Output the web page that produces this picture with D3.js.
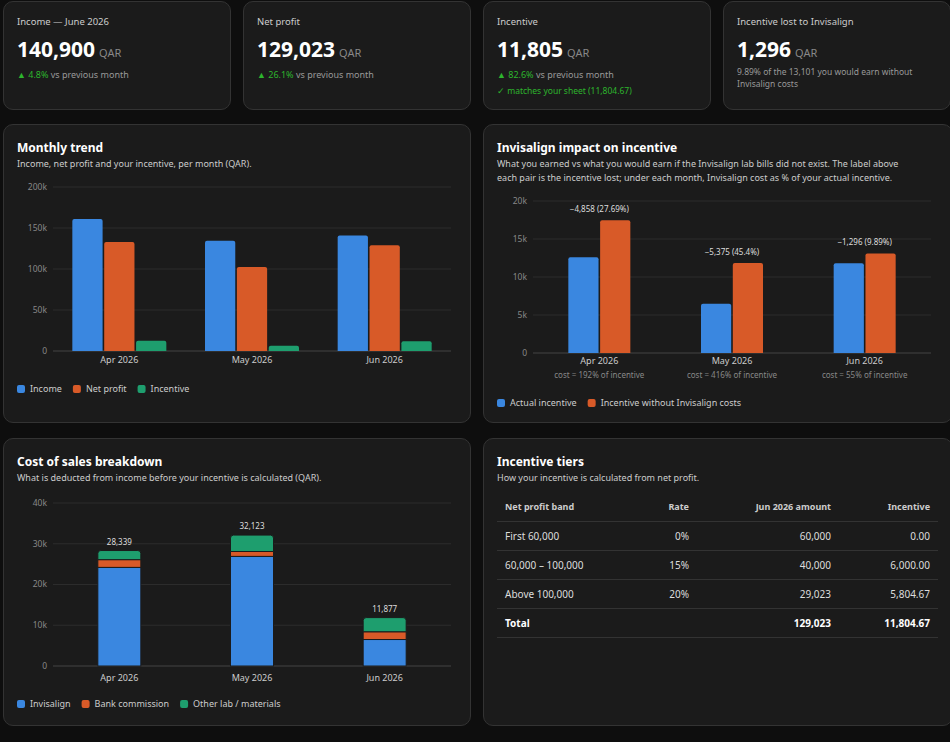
<!DOCTYPE html>
<html><head><meta charset="utf-8">
<script src="https://cdn.jsdelivr.net/npm/d3@7"></script>
<style>
body{margin:0;background:#0e0e0e;font-family:"Noto Sans",sans-serif;color:#ddd;width:950px;height:742px;overflow:hidden;position:relative}
.card{position:absolute;background:#1b1b1b;border:1px solid #333;border-radius:10px;box-sizing:border-box;overflow:hidden}
.kl{position:absolute;left:13px;top:13px;font-size:9.5px;color:#ccc}
.kv{position:absolute;left:13px;top:33px;font-size:21px;font-weight:700;color:#fff}
.kv span{font-size:11px;font-weight:400;color:#888;margin-left:4px}
.kd{position:absolute;left:13px;top:66px;font-size:9px;color:#999}
.kd b{color:#2db52d;font-weight:400}
.ks{position:absolute;left:13px;top:83px;font-size:8.5px;color:#2db52d}
.kn{position:absolute;left:13px;top:64px;font-size:8.5px;color:#999;width:200px;line-height:12px}
.t{position:absolute;left:13px;top:14px;font-size:12px;font-weight:700;color:#fff}
.s{position:absolute;left:13px;top:32px;font-size:9px;color:#ccc;line-height:14px;width:418px}
svg{position:absolute;left:0;top:0}
svg text{font-family:"Noto Sans",sans-serif}
table{position:absolute;left:13px;top:53px;width:441px;border-collapse:collapse;font-size:10px;table-layout:fixed}
td,th{height:29px;border-bottom:1px solid #333;padding:0 8px;text-align:right;box-sizing:border-box}
th{font-weight:700;color:#ccc;font-size:9px}
td{color:#ddd}
td:first-child,th:first-child{text-align:left}
tr.tot td{font-weight:700;color:#fff}
</style></head><body>
<script>
const months = ["Apr 2026", "May 2026", "Jun 2026"];
const income = [161000, 134447, 140900];
const netProfit = [133000, 102317, 129023];
const incentive = [12600, 6465, 11805];
const incentiveNoInv = [17458, 11840, 13101];
const lostLabels = ["\u22124,858 (27.69%)", "\u22125,375 (45.4%)", "\u22121,296 (9.89%)"];
const costPct = ["cost = 192% of incentive", "cost = 416% of incentive", "cost = 55% of incentive"];
const invisalign = [24200, 26900, 6500];
const bankCommission = [1900, 1200, 1900];
const otherLab = [2239, 4023, 3477];
const costTotals = ["28,339", "32,123", "11,877"];
const tiers = [
  ["First 60,000", "0%", "60,000", "0.00"],
  ["60,000 \u2013 100,000", "15%", "40,000", "6,000.00"],
  ["Above 100,000", "20%", "29,023", "5,804.67"]
];
const tierTotal = ["Total", "", "129,023", "11,804.67"];

const BLUE = "#3a87e0", ORANGE = "#d85a28", GREEN = "#1e9e6e";
const body = d3.select("body");

function card(x, y, w, h) {
  return body.append("div").attr("class", "card")
    .style("left", x + "px").style("top", y + "px").style("width", w + "px").style("height", h + "px");
}

// KPI cards
const kpis = [
  { l: "Income \u2014 June 2026", v: "140,900", d: "4.8%" },
  { l: "Net profit", v: "129,023", d: "26.1%" },
  { l: "Incentive", v: "11,805", d: "82.6%", s: "\u2713 matches your sheet (11,804.67)" },
  { l: "Incentive lost to Invisalign", v: "1,296", n: "9.89% of the 13,101 you would earn without Invisalign costs" }
];
kpis.forEach((k, i) => {
  const c = card(3 + i * 240, 1, 228, 109);
  c.append("div").attr("class", "kl").text(k.l);
  c.append("div").attr("class", "kv").html(`${k.v}<span>QAR</span>`);
  if (k.d) c.append("div").attr("class", "kd").html(`<b>\u25B2 ${k.d}</b> vs previous month`);
  if (k.s) c.append("div").attr("class", "ks").text(k.s);
  if (k.n) c.append("div").attr("class", "kn").text(k.n);
});

function chartCard(x, y, w, h, title, sub) {
  const c = card(x, y, w, h);
  c.append("div").attr("class", "t").text(title);
  c.append("div").attr("class", "s").text(sub);
  return c.append("svg").attr("width", w).attr("height", h);
}

function axes(svg, y, ticks, x0, x1, fmt) {
  const g = svg.append("g");
  ticks.forEach(t => {
    g.append("line").attr("x1", x0).attr("x2", x1).attr("y1", y(t)).attr("y2", y(t))
      .attr("stroke", t === 0 ? "#444" : "#2c2c2c");
    g.append("text").attr("x", x0 - 6).attr("y", y(t)).attr("dy", "0.35em")
      .attr("text-anchor", "end").attr("font-size", 8.5).attr("fill", "#888").text(fmt(t));
  });
}
const kfmt = t => t === 0 ? "0" : (t / 1000) + "k";

function legend(svg, items, x, y) {
  let cx = x;
  items.forEach(([lab, col]) => {
    svg.append("rect").attr("x", cx).attr("y", y - 4).attr("width", 8).attr("height", 8).attr("rx", 2).attr("fill", col);
    const t = svg.append("text").attr("x", cx + 13).attr("y", y).attr("dy", "0.35em")
      .attr("font-size", 9).attr("fill", "#ccc").text(lab);
    cx += 13 + t.node().getComputedTextLength() + 11;
  });
}

function roundTop(x, y, w, h, r) {
  r = Math.min(r, h);
  return `M${x},${y + h}V${y + r}Q${x},${y} ${x + r},${y}H${x + w - r}Q${x + w},${y} ${x + w},${y + r}V${y + h}Z`;
}

// Monthly trend
{
  const svg = chartCard(3, 124, 468, 299, "Monthly trend", "Income, net profit and your incentive, per month (QAR).");
  const x = d3.scaleBand().domain(months).range([49, 447]);
  const y = d3.scaleLinear().domain([0, 200000]).range([226, 62]);
  axes(svg, y, [0, 50000, 100000, 150000, 200000], 49, 447, kfmt);
  const series = [[income, BLUE], [netProfit, ORANGE], [incentive, GREEN]];
  const inner = d3.scaleBand().domain([0, 1, 2]).range([0, 94]).paddingInner(0.05);
  months.forEach((m, i) => {
    const gx = x(m) + (x.bandwidth() - 94) / 2;
    series.forEach(([vals, col], j) => {
      svg.append("path").attr("d", roundTop(gx + inner(j), y(vals[i]), inner.bandwidth(), y(0) - y(vals[i]), 2)).attr("fill", col);
    });
    svg.append("text").attr("x", x(m) + x.bandwidth() / 2).attr("y", 238).attr("text-anchor", "middle")
      .attr("font-size", 9).attr("fill", "#ccc").text(m);
  });
  legend(svg, [["Income", BLUE], ["Net profit", ORANGE], ["Incentive", GREEN]], 13, 264);
}

// Invisalign impact
{
  const svg = chartCard(483, 124, 470, 299, "Invisalign impact on incentive",
    "What you earned vs what you would earn if the Invisalign lab bills did not exist. The label above each pair is the incentive lost; under each month, Invisalign cost as % of your actual incentive.");
  const x = d3.scaleBand().domain(months).range([49, 447]);
  const y = d3.scaleLinear().domain([0, 20000]).range([228, 76]);
  axes(svg, y, [0, 5000, 10000, 15000, 20000], 49, 447, kfmt);
  const inner = d3.scaleBand().domain([0, 1]).range([0, 62]).paddingInner(0.05);
  months.forEach((m, i) => {
    const gx = x(m) + (x.bandwidth() - 62) / 2, cx = x(m) + x.bandwidth() / 2;
    [[incentive, BLUE], [incentiveNoInv, ORANGE]].forEach(([vals, col], j) => {
      svg.append("path").attr("d", roundTop(gx + inner(j), y(vals[i]), inner.bandwidth(), y(0) - y(vals[i]), 2)).attr("fill", col);
    });
    svg.append("text").attr("x", cx).attr("y", y(incentiveNoInv[i]) - 8).attr("text-anchor", "middle")
      .attr("font-size", 8).attr("fill", "#ddd").text(lostLabels[i]);
    svg.append("text").attr("x", cx).attr("y", 239).attr("text-anchor", "middle")
      .attr("font-size", 9).attr("fill", "#ccc").text(m);
    svg.append("text").attr("x", cx).attr("y", 253).attr("text-anchor", "middle")
      .attr("font-size", 8).attr("fill", "#888").text(costPct[i]);
  });
  legend(svg, [["Actual incentive", BLUE], ["Incentive without Invisalign costs", ORANGE]], 13, 278);
}

// Cost of sales breakdown
{
  const svg = chartCard(3, 438, 468, 288, "Cost of sales breakdown", "What is deducted from income before your incentive is calculated (QAR).");
  const x = d3.scaleBand().domain(months).range([49, 447]);
  const y = d3.scaleLinear().domain([0, 40000]).range([227, 64]);
  axes(svg, y, [0, 10000, 20000, 30000, 40000], 49, 447, kfmt);
  const keys = ["inv", "bank", "other"], cols = [BLUE, ORANGE, GREEN];
  const rows = months.map((m, i) => ({ m, inv: invisalign[i], bank: bankCommission[i], other: otherLab[i] }));
  const stack = d3.stack().keys(keys)(rows);
  const bw = 43;
  stack.forEach((layer, k) => {
    layer.forEach((d, i) => {
      const bx = x(months[i]) + (x.bandwidth() - bw) / 2;
      const top = y(d[1]), h = y(d[0]) - y(d[1]);
      const p = svg.append(k === 2 ? "path" : "rect").attr("fill", cols[k]).attr("stroke", "#1b1b1b").attr("stroke-width", 1);
      if (k === 2) p.attr("d", roundTop(bx, top, bw, h, 3));
      else p.attr("x", bx).attr("y", top).attr("width", bw).attr("height", h);
    });
  });
  months.forEach((m, i) => {
    const cx = x(m) + x.bandwidth() / 2;
    svg.append("text").attr("x", cx).attr("y", y(invisalign[i] + bankCommission[i] + otherLab[i]) - 6)
      .attr("text-anchor", "middle").attr("font-size", 8).attr("fill", "#ddd").text(costTotals[i]);
    svg.append("text").attr("x", cx).attr("y", 242).attr("text-anchor", "middle")
      .attr("font-size", 9).attr("fill", "#ccc").text(m);
  });
  legend(svg, [["Invisalign", BLUE], ["Bank commission", ORANGE], ["Other lab / materials", GREEN]], 13, 265);
}

// Incentive tiers table
{
  const c = card(483, 438, 470, 288);
  c.append("div").attr("class", "t").text("Incentive tiers");
  c.append("div").attr("class", "s").text("How your incentive is calculated from net profit.");
  const tb = c.append("table");
  const cg = tb.append("colgroup");
  [150, 50, 142, 99].forEach(w => cg.append("col").style("width", w + "px"));
  tb.append("tr").selectAll("th").data(["Net profit band", "Rate", "Jun 2026 amount", "Incentive"]).enter().append("th").text(d => d);
  tiers.forEach(r => tb.append("tr").selectAll("td").data(r).enter().append("td").text(d => d));
  tb.append("tr").attr("class", "tot").selectAll("td").data(tierTotal).enter().append("td").text(d => d);
}
</script>
</body></html>
